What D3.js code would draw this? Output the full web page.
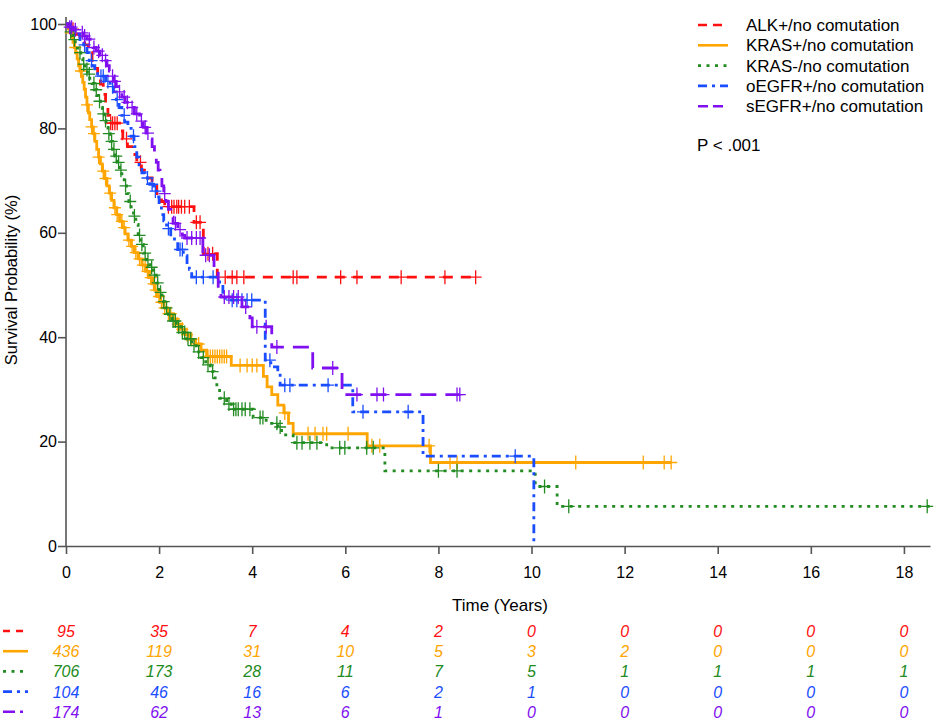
<!DOCTYPE html>
<html>
<head>
<meta charset="utf-8">
<script src="https://cdn.jsdelivr.net/npm/d3@7"></script>
<style>
  body { margin: 0; background: #fff; }
  text { font-family: "Liberation Sans", Arial, sans-serif; }
</style>
</head>
<body>
<svg width="936" height="721"></svg>
<script>
// group labels, colours and dash styles
const groups = ['ALK+/no comutation', 'KRAS+/no comutation', 'KRAS-/no comutation', 'oEGFR+/no comutation', 'sEGFR+/no comutation']
const colors = ['#ff1010', '#ffa500', '#228b22', '#1a4dff', '#8010f0']
const dashes = ['10,8', null, '3,5.5', '9,5,3,5', '16,9']

// number at risk, at years 0, 2, ... 18
const riskYears = [0, 2, 4, 6, 8, 10, 12, 14, 16, 18]
const atRisk = [
  [95, 35, 7, 4, 2, 0, 0, 0, 0, 0],
  [436, 119, 31, 10, 5, 3, 2, 0, 0, 0],
  [706, 173, 28, 11, 7, 5, 1, 1, 1, 1],
  [104, 46, 16, 6, 2, 1, 0, 0, 0, 0],
  [174, 62, 13, 6, 1, 0, 0, 0, 0, 0]
]

// Kaplan-Meier steps (time in years, survival %)
const alkT = [0.1, 0.2, 0.3, 0.4, 0.48, 0.56, 0.62, 0.68, 0.74, 0.8, 0.85, 0.9, 0.94, 1.15, 1.22, 1.32, 1.42, 1.52, 1.62, 1.75, 1.85, 1.95, 2.05, 2.12, 2.75, 2.95, 3.25]
const alkS = [99, 98, 97, 96, 94.5, 93, 91.5, 90, 88.5, 86.5, 84.5, 82.5, 81, 79.5, 78, 76.5, 75, 73.5, 72, 70.5, 69, 67.5, 66, 65, 62, 56, 51.5]
const alkCens = [0.15, 0.96, 1.0, 1.05, 1.1, 1.3, 1.6, 2.2, 2.27, 2.32, 2.38, 2.42, 2.48, 2.55, 2.65, 2.8, 2.88, 3.05, 3.15, 3.42, 3.57, 3.67, 3.82, 4.88, 4.96, 5.9, 6.25, 7.2, 8.14, 8.8]
const alkEnd = 8.85

const krasT = [0.03, 0.06, 0.09, 0.12, 0.15, 0.18, 0.21, 0.24, 0.27, 0.3, 0.33, 0.36, 0.39, 0.42, 0.45, 0.48, 0.51, 0.55, 0.58, 0.62, 0.66, 0.7, 0.74, 0.78, 0.83, 0.88, 0.93, 0.98, 1.03, 1.09, 1.15, 1.21, 1.27, 1.33, 1.4, 1.47, 1.55, 1.63, 1.71, 1.79, 1.85, 1.9, 1.96, 2.02, 2.1, 2.18, 2.27, 2.36, 2.46, 2.56, 2.66, 2.78, 2.9, 3.02, 3.55, 4.24, 4.32, 4.42, 4.55, 4.68, 4.78, 4.88, 6.47, 7.83]
const krasS = [99.5, 99, 98.3, 97.5, 96.5, 95.5, 94.5, 93.3, 92, 91, 90, 88.8, 87.5, 86, 84.5, 83, 81.7, 80.3, 79, 77.5, 76, 74.5, 73.2, 71.8, 70.4, 69, 67.6, 66.2, 64.8, 63.5, 62.2, 61, 59.8, 58.6, 57.4, 56.2, 55, 53.8, 52.6, 51.4, 50.2, 49, 47.8, 46.7, 45.6, 44.5, 43.5, 42.5, 41.5, 40.5, 39.6, 38.7, 37.5, 36.3, 34.6, 32.5, 30.5, 29, 27, 25.5, 23.5, 21.5, 19.2, 16]
const krasCens = [0.1, 0.2, 0.32, 0.45, 0.55, 0.6, 0.7, 0.8, 0.85, 0.95, 1.05, 1.1, 1.2, 1.25, 1.35, 1.42, 1.5, 1.58, 1.65, 1.7, 1.75, 1.82, 1.88, 1.93, 2.0, 2.05, 2.12, 2.2, 2.25, 2.32, 2.4, 2.5, 2.6, 2.7, 2.85, 3.05, 3.1, 3.15, 3.2, 3.25, 3.3, 3.35, 3.4, 3.45, 3.74, 3.89, 4.0, 4.1, 4.7, 5.2, 5.35, 5.52, 5.6, 6.06, 6.57, 6.74, 7.8, 8.25, 8.4, 10.95, 12.4, 12.85, 13.0]
const krasEnd = 13.0

const krasNegT = [0.03, 0.06, 0.09, 0.12, 0.16, 0.2, 0.24, 0.28, 0.32, 0.36, 0.41, 0.46, 0.51, 0.56, 0.61, 0.66, 0.7, 0.74, 0.78, 0.82, 0.86, 0.9, 0.95, 1.0, 1.05, 1.1, 1.15, 1.2, 1.25, 1.3, 1.35, 1.4, 1.45, 1.5, 1.55, 1.6, 1.66, 1.73, 1.8, 1.87, 1.94, 2.0, 2.06, 2.13, 2.2, 2.28, 2.37, 2.47, 2.58, 2.7, 2.8, 2.9, 3.0, 3.1, 3.18, 3.24, 3.3, 3.45, 3.55, 4.02, 4.3, 4.55, 4.63, 4.88, 5.6, 6.85, 10.08, 10.55]
const krasNegS = [99.5, 99, 98.5, 97.8, 97, 96.2, 95.4, 94.5, 93.4, 92.3, 91.3, 90.4, 89.6, 88.6, 87.4, 86.3, 85.2, 84, 82.8, 81.5, 80.2, 79, 77.5, 76, 74.7, 73.5, 72, 70.5, 69, 67.5, 66, 64.6, 63.2, 61.6, 59.5, 57.8, 56.1, 54.8, 53.4, 51.9, 50.4, 48.6, 46.8, 45.6, 44.4, 43.1, 42, 40.9, 39.7, 38.4, 37.2, 36.1, 34.7, 33.4, 32.2, 30.5, 28.3, 27.2, 26.2, 24.6, 23.5, 22.8, 21.3, 19.8, 18.8, 14.4, 11.4, 7.6]
const krasNegCens = [0.1, 0.18, 0.3, 0.38, 0.45, 0.5, 0.6, 0.65, 0.72, 0.8, 0.85, 0.92, 0.98, 1.03, 1.08, 1.13, 1.18, 1.28, 1.38, 1.47, 1.58, 1.63, 1.7, 1.76, 1.84, 1.9, 1.97, 2.03, 2.1, 2.16, 2.23, 2.3, 2.35, 2.42, 2.5, 2.55, 2.62, 2.68, 2.75, 2.85, 2.95, 3.05, 3.15, 3.4, 3.5, 3.6, 3.65, 3.7, 3.78, 3.85, 3.95, 4.17, 4.23, 4.53, 4.6, 4.96, 5.07, 5.24, 5.39, 5.88, 5.99, 6.46, 6.6, 8.0, 8.4, 10.28, 10.8, 18.5]
const krasNegEnd = 18.56

const oegfrT = [0.1, 0.2, 0.3, 0.38, 0.45, 0.5, 0.56, 0.62, 0.68, 0.85, 0.95, 1.02, 1.08, 1.14, 1.2, 1.26, 1.33, 1.4, 1.46, 1.52, 1.57, 1.63, 1.7, 1.8, 1.88, 1.95, 2.0, 2.05, 2.1, 2.16, 2.25, 2.33, 2.4, 2.52, 2.6, 2.65, 2.7, 3.3, 3.37, 3.42, 4.28, 4.4, 4.55, 4.6, 6.16, 7.67, 10.05]
const oegfrS = [99, 98, 97, 96, 94.5, 93, 92, 91, 90, 89, 88, 87, 85.5, 84, 82.5, 81.2, 80, 78.5, 76.5, 74.5, 73, 71.5, 70.5, 69.3, 68, 66.9, 65.2, 63.5, 62.3, 60.8, 59.6, 58.5, 56.8, 55.6, 54.3, 53, 51.5, 50.2, 48.6, 47.1, 35.6, 34.3, 33.1, 30.8, 25.7, 17.2, 0]
const oegfrCens = [0.4, 0.55, 0.75, 0.8, 0.9, 1.0, 1.1, 1.25, 1.45, 1.75, 1.85, 1.92, 2.2, 2.45, 2.5, 2.8, 2.95, 3.16, 3.57, 3.67, 3.78, 3.89, 3.99, 4.38, 4.7, 4.81, 5.63, 6.38, 7.35, 9.65]
const oegfrEnd = 10.05

const segfrT = [0.05, 0.15, 0.3, 0.38, 0.45, 0.52, 0.58, 0.65, 0.73, 0.8, 0.88, 0.93, 0.98, 1.03, 1.08, 1.13, 1.2, 1.27, 1.37, 1.47, 1.58, 1.66, 1.73, 1.8, 1.85, 1.9, 1.94, 1.98, 2.02, 2.06, 2.1, 2.15, 2.2, 2.25, 2.3, 2.4, 2.5, 2.55, 2.94, 3.18, 3.27, 3.33, 3.78, 3.95, 4.0, 4.42, 5.3, 5.93]
const segfrS = [99.4, 98.9, 98.3, 97.7, 97.1, 96.3, 95.5, 94.8, 94, 93, 92, 91, 90, 89, 88, 87, 86, 85, 84, 82.8, 81.4, 80.2, 79.1, 78, 76.5, 75, 73.5, 72, 70.5, 69, 67.5, 66, 64.5, 63, 61.8, 60.6, 59.5, 59, 55.7, 52.9, 48.5, 47.7, 45.8, 43.7, 42, 38.1, 34.1, 29]
const segfrCens = [0.08, 0.12, 0.2, 0.35, 0.4, 0.5, 0.6, 0.7, 0.78, 0.85, 1.0, 1.05, 1.15, 1.25, 1.32, 1.42, 1.52, 1.62, 1.7, 1.76, 2.12, 2.35, 2.45, 2.6, 2.7, 2.8, 2.88, 3.0, 3.08, 3.4, 3.5, 3.6, 3.7, 3.86, 4.1, 4.3, 4.53, 5.73, 6.25, 6.68, 6.82, 8.4, 8.46]
const segfrEnd = 8.46

const curves = [
  {T: alkT, S: alkS, cens: alkCens, end: alkEnd},
  {T: krasT, S: krasS, cens: krasCens, end: krasEnd},
  {T: krasNegT, S: krasNegS, cens: krasNegCens, end: krasNegEnd},
  {T: oegfrT, S: oegfrS, cens: oegfrCens, end: oegfrEnd},
  {T: segfrT, S: segfrS, cens: segfrCens, end: segfrEnd}
]

const svg = d3.select('svg')

const x = d3.scaleLinear().domain([0, 18.56]).range([66, 930])
const y = d3.scaleLinear().domain([0, 100]).range([546, 24])

// axes
const xAxis = d3.axisBottom(x).tickValues(riskYears).tickSize(8).tickSizeOuter(0)
const xAxisG = svg.append('g').attr('transform', `translate(0, ${y(0)})`).call(xAxis)
const yAxis = d3.axisLeft(y).tickValues([0, 20, 40, 60, 80, 100]).tickSize(8).tickSizeOuter(0)
const yAxisG = svg.append('g').attr('transform', `translate(${x(0)}, 0)`).call(yAxis)

;[xAxisG, yAxisG].forEach(g => {
  g.selectAll('.domain, .tick line').attr('stroke', '#555').attr('stroke-width', 1.6)
  g.selectAll('.tick text').attr('font-size', 16).attr('fill', '#000')
    .style('font-family', '"Liberation Sans", Arial, sans-serif')
})
xAxisG.selectAll('.tick text').attr('dy', '1.3em')
yAxisG.selectAll('.tick text').attr('x', -9)
yAxisG.select('.domain').attr('d', `M0,${y(0)}V17`)

svg.append('text').text('Time (Years)')
  .attr('x', 500).attr('y', 611).attr('text-anchor', 'middle').attr('font-size', 17)
svg.append('text').text('Survival Probability (%)')
  .attr('transform', `translate(17, 280) rotate(-90)`)
  .attr('text-anchor', 'middle').attr('font-size', 16.5)

const survAt = (c, t) => {
  const i = d3.bisectRight(c.T, t)
  return i === 0 ? 100 : c.S[i - 1]
}

const line = d3.line().x(d => x(d[0])).y(d => y(d[1])).curve(d3.curveStepAfter)

curves.forEach((c, k) => {
  const pts = [[0, 100]].concat(c.T.map((t, i) => [t, c.S[i]]))
  pts.push([c.end, c.S[c.S.length - 1]])
  svg.append('path').datum(pts)
    .attr('d', line)
    .attr('fill', 'none')
    .attr('stroke', colors[k])
    .attr('stroke-width', 2.8)
    .attr('stroke-dasharray', dashes[k])

  svg.append('g').selectAll('path').data(c.cens).join('path')
    .attr('d', t => {
      const cx = x(t), cy = y(survAt(c, t))
      return `M${cx - 6},${cy}h12M${cx},${cy - 7}v14`
    })
    .attr('stroke', colors[k])
    .attr('stroke-width', 1.3)
    .attr('fill', 'none')
})

// legend
const legend = svg.append('g')
groups.forEach((name, k) => {
  const ly = 25 + k * 20.3
  legend.append('line')
    .attr('x1', 698).attr('x2', 728).attr('y1', ly).attr('y2', ly)
    .attr('stroke', colors[k]).attr('stroke-width', 2.6)
    .attr('stroke-dasharray', dashes[k] ? (k === 0 ? '9,6' : k === 4 ? '10,5' : dashes[k]) : null)
  legend.append('text').text(name)
    .attr('x', 746).attr('y', ly + 6).attr('font-size', 17)
})
svg.append('text').text('P < .001').attr('x', 697).attr('y', 151).attr('font-size', 17)

// number at risk table
groups.forEach((name, k) => {
  const ry = 631 + k * 20.2
  svg.append('line')
    .attr('x1', 3).attr('x2', 28).attr('y1', ry).attr('y2', ry)
    .attr('stroke', colors[k]).attr('stroke-width', 2.6)
    .attr('stroke-dasharray', dashes[k] ? (k === 0 ? '7,6' : k === 4 ? '12,5,3,5' : dashes[k]) : null)
  svg.append('g').selectAll('text').data(atRisk[k]).join('text')
    .text(d => d)
    .attr('x', (d, i) => x(riskYears[i]))
    .attr('y', ry + 6)
    .attr('text-anchor', 'middle')
    .attr('font-size', 16)
    .attr('font-style', 'italic')
    .attr('fill', colors[k])
})
</script>
</body>
</html>
